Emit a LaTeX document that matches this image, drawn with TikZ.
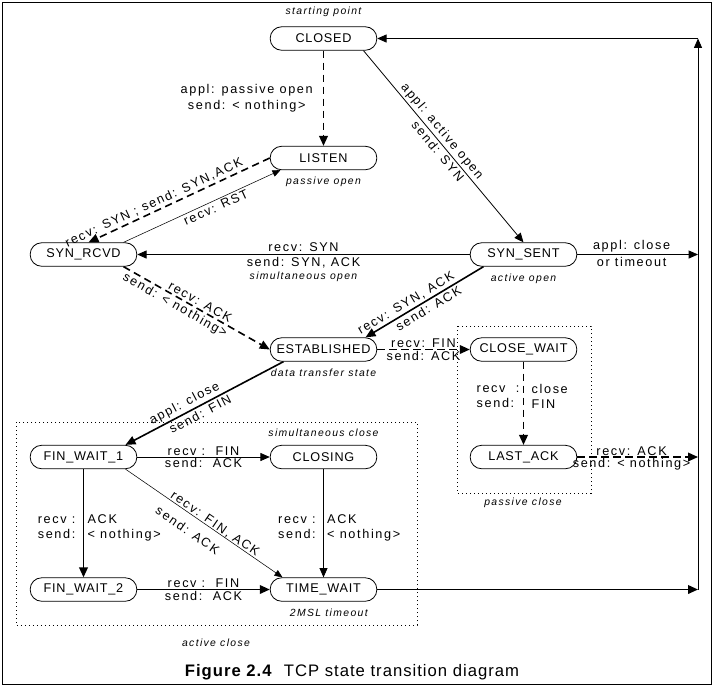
\documentclass[tikz,border=0pt]{standalone}
\usepackage{fontspec}
\setmainfont{Liberation Sans}[LetterSpace=6]
\newfontfamily\lblfont{Liberation Sans}[LetterSpace=13]
\usetikzlibrary{shapes,arrows.meta,positioning,calc}

\begin{document}
\begin{tikzpicture}[x=0.75pt, y=-0.75pt, align=center]
    \tikzset{
        n/.style        =   { rectangle
                            , rounded corners=8.6pt
                            , text centered
                            , draw=black
                            , semithick
                            , minimum width=80pt
                            , minimum height=17.6pt
                            , inner sep=1pt
                            , font=\fontsize{9.5}{11}\selectfont
        }
        , lbl/.style    =   { inner sep=1.5pt
                            , font=\lblfont\fontsize{9.5}{11.3}\selectfont
        }
        , note/.style   =   { inner sep=0pt
                            , font=\lblfont\fontsize{7.8}{9}\selectfont\itshape
        }
        , arrow/.style  =   { very thick
                            , -{Triangle[length=7.5pt, width=6.5pt]}
        }
        , narrow/.style =   { semithick
                            , -{Triangle[length=7pt, width=6pt]}
        }
        , tarrow/.style =   { thin
                            , -{Triangle[length=6pt, width=5pt]}
        }
        , darrow/.style =   { very thick
                            , dash pattern=on 5.5pt off 3.5pt
                            , -{Triangle[length=7.5pt, width=6.5pt]}
        }
        , dots/.style   =   { thin
                            , dash pattern=on 0.8pt off 2.2pt
        }
    }
    \useasboundingbox (0,0) rectangle (713,687);
    \draw[semithick] (2,2) rectangle (711,684);

    \node(closed)  [n] at (323.5,38.5)  {CLOSED};
    \node(listen)  [n] at (323.5,158)   {LISTEN};
    \node(rcvd)    [n] at (83.5,254.5)  {SYN\_RCVD};
    \node(sent)    [n] at (523.5,254.5) {SYN\_SENT};
    \node(estab)   [n] at (323.5,349.5) {ESTABLISHED};
    \node(clwait)  [n] at (523.5,349.5) {CLOSE\_WAIT};
    \node(lastack) [n] at (523.5,457)   {LAST\_ACK};
    \node(fw1)     [n] at (83.5,457)    {FIN\_WAIT\_1};
    \node(closing) [n] at (323.5,457)   {CLOSING};
    \node(fw2)     [n] at (83.5,589.5)  {FIN\_WAIT\_2};
    \node(tw)      [n] at (323.5,589.5) {TIME\_WAIT};

    \coordinate(rt) at (698,38.5);
    \coordinate(rb) at (698,589.5);

    \node[note, above=7pt of closed]  {starting point};
    \node[note, below=5pt of listen]  {passive open};
    \node[note, below=5pt of sent]    {active open};
    \node[note, below=5pt of estab]   {data transfer state};
    \node[note, above=6pt of closing] {simultaneous close};
    \node[note, below=5pt of tw, xshift=4pt] {2MSL timeout};

    % passive and active close
    \draw[dots] (457,326) rectangle (591,493);
    \draw[dots] (16,422) rectangle (417,625);
    \node[note] at (523,503) {passive close};
    \node[note] at (216,643) {active close};

    % opening
    \draw[darrow] (closed) -- (listen)
        node[lbl, midway, left=6pt] {appl: passive open\\send: < nothing>};
    \draw[narrow] ($(closed.south)+(40,0)$) -- (sent.north)
        node[lbl, sloped, above, pos=0.45] {appl: active open}
        node[lbl, sloped, below, pos=0.5] {send: SYN};
    \draw[darrow] (listen.west) -- ($(rcvd.north)+(5,0)$)
        node[lbl, sloped, above, pos=0.62] {recv: SYN ;\ send: SYN,ACK};
    \draw[tarrow] ($(rcvd.north)+(40,0)$) -- ($(listen.south)+(-43,0)$)
        node[lbl, sloped, below, pos=0.57] {recv: RST};
    \draw[narrow] (sent) -- (rcvd)
        node(synrecv)[lbl, midway, above] {recv: SYN}
        node(synack) [lbl, midway, below] {send: SYN, ACK};
    \node[note, below=1pt of synack] {simultaneous open};
    \draw[arrow] ($(sent.south)+(-40,0)$) -- ($(estab.north)+(42,0)$)
        node[lbl, sloped, above, pos=0.62] {recv: SYN, ACK}
        node[lbl, sloped, below, pos=0.5] {send: ACK};
    \draw[darrow] ($(rcvd.south)+(40,0)$) -- (estab.west)
        node[lbl, sloped, above, pos=0.5] {recv: ACK}
        node[lbl, sloped, below, pos=0.38] {send: < nothing>};
    \draw[narrow] (sent) -- (rb |- sent)
        node[lbl, pos=0.45, above] {appl: close}
        node[lbl, pos=0.45, below] {or timeout};

    % closing
    \draw[darrow] (estab) -- (clwait)
        node[lbl, midway, above, inner sep=0.5pt] {recv: FIN}
        node[lbl, midway, below, inner sep=0.5pt] {send: ACK};
    \draw[darrow] (clwait) -- (lastack)
        node[lbl, pos=0.42, left=1pt, align=left] {recv\ \ :\\send:}
        node[lbl, pos=0.42, right=4pt, align=left] {close\\FIN};
    \draw[darrow] (lastack) -- (rb |- lastack)
        node[lbl, pos=0.45, above, inner sep=0.5pt] {recv: ACK}
        node[lbl, pos=0.45, below, inner sep=0.5pt] {send: < nothing>};
    \draw[arrow] ($(estab.south)+(-40,0)$) -- ($(fw1.north)+(42,0)$)
        node[lbl, sloped, above, pos=0.6] {appl: close}
        node[lbl, sloped, below, pos=0.55] {send: FIN};
    \draw[narrow] (fw1) -- (closing)
        node[lbl, midway, above, inner sep=0.5pt] {recv :\ \ FIN}
        node[lbl, midway, below, inner sep=0.5pt] {send:\ \ ACK};
    \draw[tarrow] ($(fw1.south)+(42,0)$) -- ($(tw.north)+(-41,0)$)
        node[lbl, sloped, above, pos=0.55, inner sep=0pt] {recv: FIN, ACK}
        node[lbl, sloped, below=6pt, pos=0.45] {send: ACK};
    \draw[arrow] (fw1) -- (fw2)
        node[lbl, pos=0.54, left=4pt, align=left] {recv\ :\\send:}
        node[lbl, pos=0.54, right=1pt, align=left] {ACK\\< nothing>};
    \draw[narrow] (closing) -- (tw)
        node[lbl, pos=0.54, left=4pt, align=left] {recv\ :\\send:}
        node[lbl, pos=0.54, right=1pt, align=left] {ACK\\< nothing>};
    \draw[arrow] (fw2) -- (tw)
        node[lbl, midway, above, inner sep=0.5pt] {recv :\ \ FIN}
        node[lbl, midway, below, inner sep=0.5pt] {send:\ \ ACK};

    % back to CLOSED
    \draw[arrow] (tw) -- (rb);
    \draw[narrow] (rb) -- (rt);
    \draw[narrow] (rt) -- (closed);

    \node(caption) at (352,672)
        {\fontsize{12.5}{14}\selectfont\textbf{Figure 2.4}\ \ TCP state transition diagram};
\end{tikzpicture}
\end{document}
